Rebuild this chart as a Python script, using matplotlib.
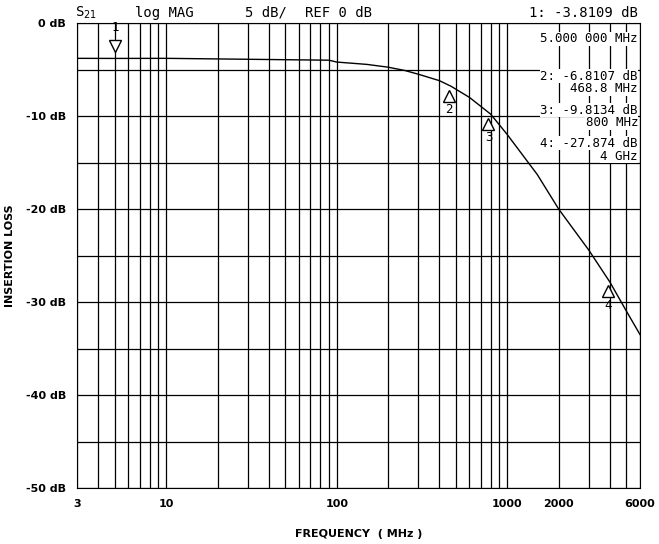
import matplotlib
matplotlib.use("Agg")
import matplotlib.pyplot as plt
import numpy as np

freq = [3, 5, 10, 30, 90, 100, 150, 200, 250, 300, 400, 468.8, 600, 800, 1000, 1500, 2000, 3000, 4000, 5000, 6000]
loss = [-3.8, -3.81, -3.8, -3.9, -4.0, -4.2, -4.45, -4.75, -5.1, -5.5, -6.2, -6.81, -8.0, -9.81, -12.0, -16.3, -20.0, -24.4, -27.87, -31.0, -33.5]
mk_freq = [5, 468.8, 800, 4000]
mk_loss = [-3.81, -6.81, -9.81, -27.87]
mk_lab = ["1", "2", "3", "4"]
yticks = [0, -10, -20, -30, -40, -50]
ytick_labels = ["0 dB", "-10 dB", "-20 dB", "-30 dB", "-40 dB", "-50 dB"]
xticks = [3, 10, 100, 1000, 2000, 6000]
xtick_labels = ["3", "10", "100", "1000", "2000", "6000"]

fig = plt.figure(figsize=(6.59, 5.44), dpi=100)
ax = fig.add_axes([77/659, 1-488/544, (640-77)/659, (488-23)/544])
ax.set_xscale("log")
ax.set_xlim(3, 6000)
ax.set_ylim(-50, 0)
vgrid = [3,4,5,6,7,8,9,10,20,30,40,50,60,70,80,90,100,200,300,400,500,600,700,800,900,1000,2000,3000,4000,5000,6000]
for v in vgrid:
    ax.axvline(v, color="black", lw=0.9)
for h in range(-50, 1, 5):
    ax.axhline(h, color="black", lw=0.9)
ax.plot(freq, loss, color="black", lw=1)
for f, l, t in zip(mk_freq, mk_loss, mk_lab):
    if t == "1":
        ax.plot(f, l + 1.3, marker="v", ms=9, mfc="white", mec="black", ls="none")
        ax.text(f, l + 2.6, t, ha="center", va="bottom", fontsize=9, family="DejaVu Sans Mono")
    else:
        ax.plot(f * 0.97, l - 1.0, marker="^", ms=9, mfc="white", mec="black", ls="none")
        ax.text(f * 0.97, l - 1.8, t, ha="center", va="top", fontsize=9, family="DejaVu Sans Mono")
ax.set_xticks(xticks)
ax.set_xticklabels(xtick_labels, fontsize=8, fontweight="bold")
ax.xaxis.set_minor_locator(matplotlib.ticker.NullLocator())
ax.set_yticks(yticks)
ax.set_yticklabels(ytick_labels, fontsize=8, fontweight="bold")
ax.tick_params(length=0, pad=8)
ax.set_xlabel("FREQUENCY  ( MHz )", fontsize=8, fontweight="bold", labelpad=14)
ax.set_ylabel("INSERTION LOSS", fontsize=8, fontweight="bold", labelpad=8)
mono = dict(family="DejaVu Sans Mono", fontsize=10, transform=fig.transFigure)
fig.text(75/659, 1-13/544, "S$_{21}$", va="center", **mono)
fig.text(135/659, 1-13/544, "log MAG", va="center", **mono)
fig.text(245/659, 1-13/544, "5 dB/", va="center", **mono)
fig.text(305/659, 1-13/544, "REF 0 dB", va="center", **mono)
fig.text(638/659, 1-13/544, "1: -3.8109 dB", va="center", ha="right", **mono)
tx = dict(ha="right", va="center", family="DejaVu Sans Mono", fontsize=9, transform=fig.transFigure,
          bbox=dict(facecolor="white", edgecolor="none", pad=0.3))
fig.text(638/659, 1-39/544, "5.000 000 MHz", **tx)
fig.text(638/659, 1-76/544, "2: -6.8107 dB", **tx)
fig.text(638/659, 1-89/544, "468.8 MHz", **tx)
fig.text(638/659, 1-110/544, "3: -9.8134 dB", **tx)
fig.text(638/659, 1-123/544, "800 MHz", **tx)
fig.text(638/659, 1-143/544, "4: -27.874 dB", **tx)
fig.text(638/659, 1-156/544, "4 GHz", **tx)
fig.savefig("out.png", dpi=100)
